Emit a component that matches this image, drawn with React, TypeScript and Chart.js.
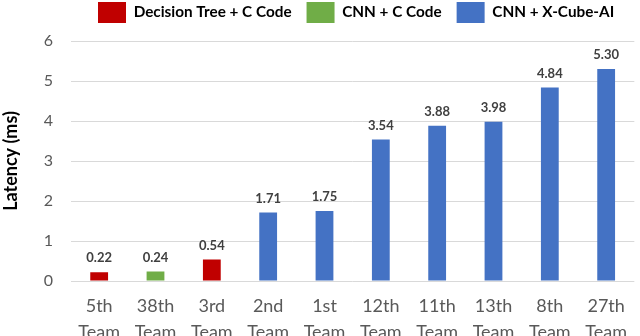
import React, { useEffect, useRef } from "react";
import { Chart, registerables } from "chart.js";

Chart.register(...registerables);

const categories: string[][] = [
  ["5th", "Team"], ["38th", "Team"], ["3rd", "Team"], ["2nd", "Team"], ["1st", "Team"],
  ["12th", "Team"], ["11th", "Team"], ["13th", "Team"], ["8th", "Team"], ["27th", "Team"],
];
const seriesNames = ["Decision Tree + C Code", "CNN + C Code", "CNN + X-Cube-AI"];
const decisionTree: (number | null)[] = [0.22, null, 0.54, null, null, null, null, null, null, null];
const cnnC: (number | null)[] = [null, 0.24, null, null, null, null, null, null, null, null];
const cnnXCube: (number | null)[] = [null, null, null, 1.71, 1.75, 3.54, 3.88, 3.98, 4.84, 5.3];
const yTicks = [0, 1, 2, 3, 4, 5, 6];

const FONT = "Lato, 'Open Sans', sans-serif";

const dataLabelPlugin = {
  id: "dataLabels",
  afterDatasetsDraw(chart: any) {
    const ctx = chart.ctx;
    ctx.save();
    ctx.font = `bold 13px ${FONT}`;
    ctx.fillStyle = "#404040";
    ctx.textAlign = "center";
    ctx.textBaseline = "middle";
    chart.data.datasets.forEach((ds: any, di: number) => {
      const meta = chart.getDatasetMeta(di);
      meta.data.forEach((el: any, i: number) => {
        const v = ds.data[i];
        if (v === null || v === undefined) return;
        ctx.fillText(Number(v).toFixed(2), el.x, el.y - 14);
      });
    });
    ctx.restore();
  },
};

const legendShiftPlugin = {
  id: "legendShift",
  afterLayout(chart: any) {
    const lg = chart.legend;
    if (!lg || !lg.lineWidths) return;
    const p = lg.options.labels.padding;
    const desiredStart = 98;
    lg.right = 3000;
    lg.left = 2 * desiredStart - p - lg.right + lg.lineWidths[0];
    lg.top = 2 - p;
  },
};

export default function App() {
  const ref = useRef<HTMLCanvasElement | null>(null);
  useEffect(() => {
    if (!ref.current) return;
    const chart = new Chart(ref.current, {
      type: "bar",
      data: {
        labels: categories,
        datasets: [
          { label: seriesNames[0], data: decisionTree, backgroundColor: "#C00000", borderWidth: 0 },
          { label: seriesNames[1], data: cnnC, backgroundColor: "#70AD47", borderWidth: 0 },
          { label: seriesNames[2], data: cnnXCube, backgroundColor: "#4472C4", borderWidth: 0 },
        ],
      },
      options: {
        responsive: false,
        animation: false,
        layout: { padding: { top: -5, right: 0, left: 0, bottom: 0 } },
        datasets: { bar: { categoryPercentage: 1, barPercentage: 0.316 } },
        plugins: {
          legend: {
            position: "top",
            labels: {
              boxWidth: 28,
              boxHeight: 21,
              padding: 15,
              color: "#000000",
              font: { family: FONT, size: 15.3, weight: "bold" },
            },
          },
          tooltip: { enabled: false },
        },
        scales: {
          x: {
            stacked: true,
            afterFit: (scale: any) => {
              scale.height = 64;
            },
            grid: { display: false, drawTicks: false },
            border: { display: false },
            ticks: {
              color: "#595959",
              font: { family: FONT, size: 18, lineHeight: 1.4 },
              padding: 13,
              maxRotation: 0,
              autoSkip: false,
            },
          },
          y: {
            stacked: true,
            min: 0,
            max: 6,
            afterBuildTicks: (scale: any) => {
              scale.ticks = yTicks.map((v) => ({ value: v }));
            },
            afterFit: (scale: any) => {
              scale.width = 71;
            },
            grid: { color: "#D9D9D9", lineWidth: 1, drawTicks: false },
            border: { display: false },
            ticks: {
              color: "#595959",
              font: { family: FONT, size: 16 },
              padding: 18,
            },
            title: {
              display: true,
              text: "Latency (ms)",
              color: "#000000",
              font: { family: FONT, size: 18, weight: "bold" },
              padding: { top: 0, bottom: 0 },
            },
          },
        },
      },
      plugins: [dataLabelPlugin, legendShiftPlugin],
    });
    return () => chart.destroy();
  }, []);
  return (
    <div style={{ position: "fixed", left: 0, top: 0, width: 640, height: 345 }}>
      <canvas ref={ref} width={640} height={345} style={{ display: "block" }} />
    </div>
  );
}
